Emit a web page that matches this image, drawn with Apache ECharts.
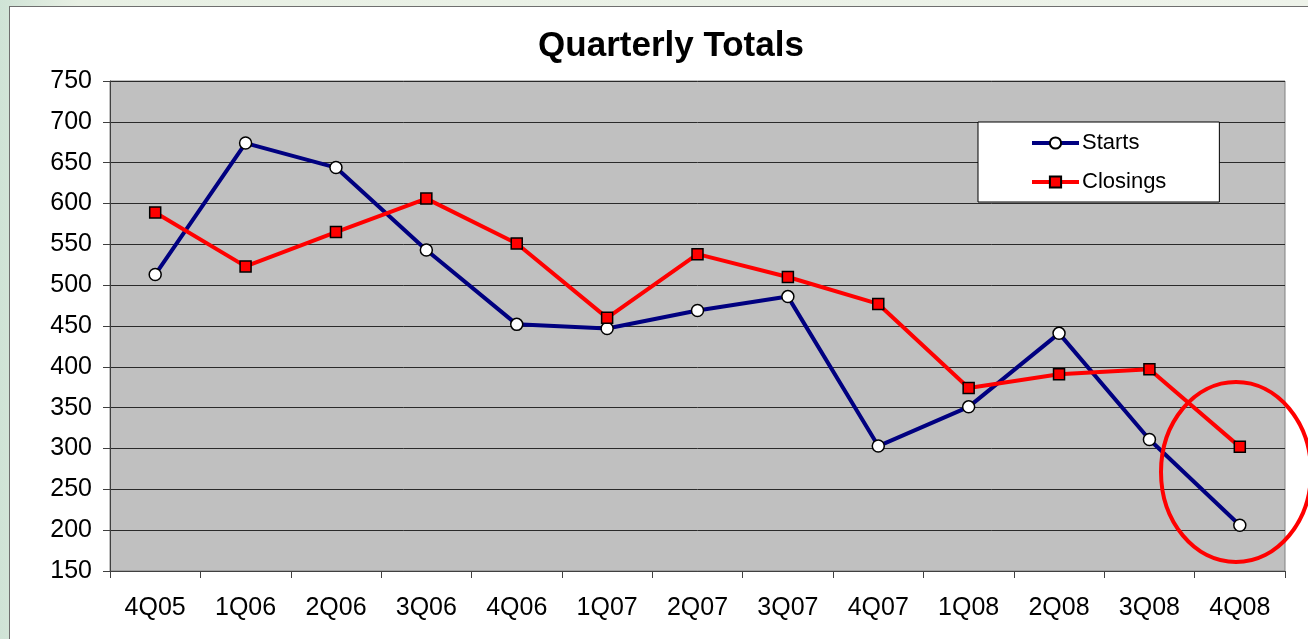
<!DOCTYPE html>
<html>
<head>
<meta charset="utf-8">
<title>Quarterly Totals</title>
<script src="https://cdn.jsdelivr.net/npm/echarts@6/dist/echarts.min.js"></script>
<style>
  html, body { margin: 0; padding: 0; width: 1308px; height: 639px; overflow: hidden; }
  body { background: linear-gradient(90deg, #cfe3d6 0%, #e8f0e4 6%, #eef3ea 100%); position: relative; }
  .panel { position: absolute; left: 9px; top: 6px; width: 1320px; height: 660px; background: #fff; border: 1px solid #6f6f6f; }
  #chart { position: absolute; left: 0; top: 0; width: 1308px; height: 639px; }
</style>
</head>
<body>
<div class="panel"></div>
<div id="chart"></div>
<script>
// 横轴季度
const quarters = ['4Q05', '1Q06', '2Q06', '3Q06', '4Q06', '1Q07', '2Q07', '3Q07', '4Q07', '1Q08', '2Q08', '3Q08', '4Q08']
// 开工数
const starts = [513, 674, 644, 543, 452, 447, 469, 486, 303, 351, 441, 311, 206]
// 成交数
const closings = [589, 523, 565, 606, 551, 460, 538, 510, 477, 374, 391, 397, 302]

const font = '"Liberation Sans", Arial, sans-serif'

const chart = echarts.init(document.getElementById('chart'), null, { renderer: 'canvas' })

const option = {
  backgroundColor: 'transparent',
  animation: false,
  title: {
    text: 'Quarterly Totals',
    left: 666,
    textAlign: 'center',
    top: 24,
    textStyle: { fontFamily: font, fontSize: 35, fontWeight: 'bold', color: '#000' }
  },
  grid: {
    left: 110,
    top: 81,
    width: 1175,
    height: 490,
    show: true,
    backgroundColor: '#c0c0c0',
    borderColor: '#808080',
    borderWidth: 1
  },
  legend: {
    orient: 'vertical',
    left: 978,
    top: 122,
    padding: [10, 53, 9, 52],
    itemWidth: 47,
    itemHeight: 14,
    itemGap: 17,
    backgroundColor: '#fff',
    borderColor: '#000',
    borderWidth: 1,
    lineStyle: { width: 4 },
    textStyle: { fontFamily: font, fontSize: 22, color: '#000', padding: [0, 0, 0, -2] },
    data: ['Starts', 'Closings']
  },
  xAxis: {
    type: 'category',
    data: quarters,
    boundaryGap: true,
    axisLine: { lineStyle: { color: '#404040', width: 1 } },
    axisTick: { show: true, length: 7, lineStyle: { color: '#404040' } },
    axisLabel: { fontFamily: font, fontSize: 25, color: '#000', margin: 25 },
    splitLine: { show: false }
  },
  yAxis: {
    type: 'value',
    min: 150,
    max: 750,
    interval: 50,
    axisLine: { show: true, lineStyle: { color: '#404040', width: 1 } },
    axisTick: { show: true, length: 7, lineStyle: { color: '#404040' } },
    axisLabel: { fontFamily: font, fontSize: 25, color: '#000', margin: 18 },
    splitLine: { lineStyle: { color: '#2a2a2a', width: 1 } }
  },
  series: [
    {
      name: 'Starts',
      type: 'line',
      data: starts,
      symbol: 'circle',
      symbolSize: 12,
      lineStyle: { color: '#000080', width: 4 },
      itemStyle: { color: '#fff', borderColor: '#000', borderWidth: 1.5 },
      z: 3
    },
    {
      name: 'Closings',
      type: 'line',
      data: closings,
      symbol: 'rect',
      symbolSize: 11,
      lineStyle: { color: '#ff0000', width: 4 },
      itemStyle: { color: '#ff0000', borderColor: '#000', borderWidth: 1.5 },
      z: 4
    }
  ],
  // 右下角的红色圈注
  graphic: [
    {
      type: 'ellipse',
      shape: { cx: 1236, cy: 472, rx: 75, ry: 90 },
      style: { fill: 'none', stroke: '#ff0000', lineWidth: 4 },
      z: 100
    }
  ]
}

chart.setOption(option)
</script>
</body>
</html>
